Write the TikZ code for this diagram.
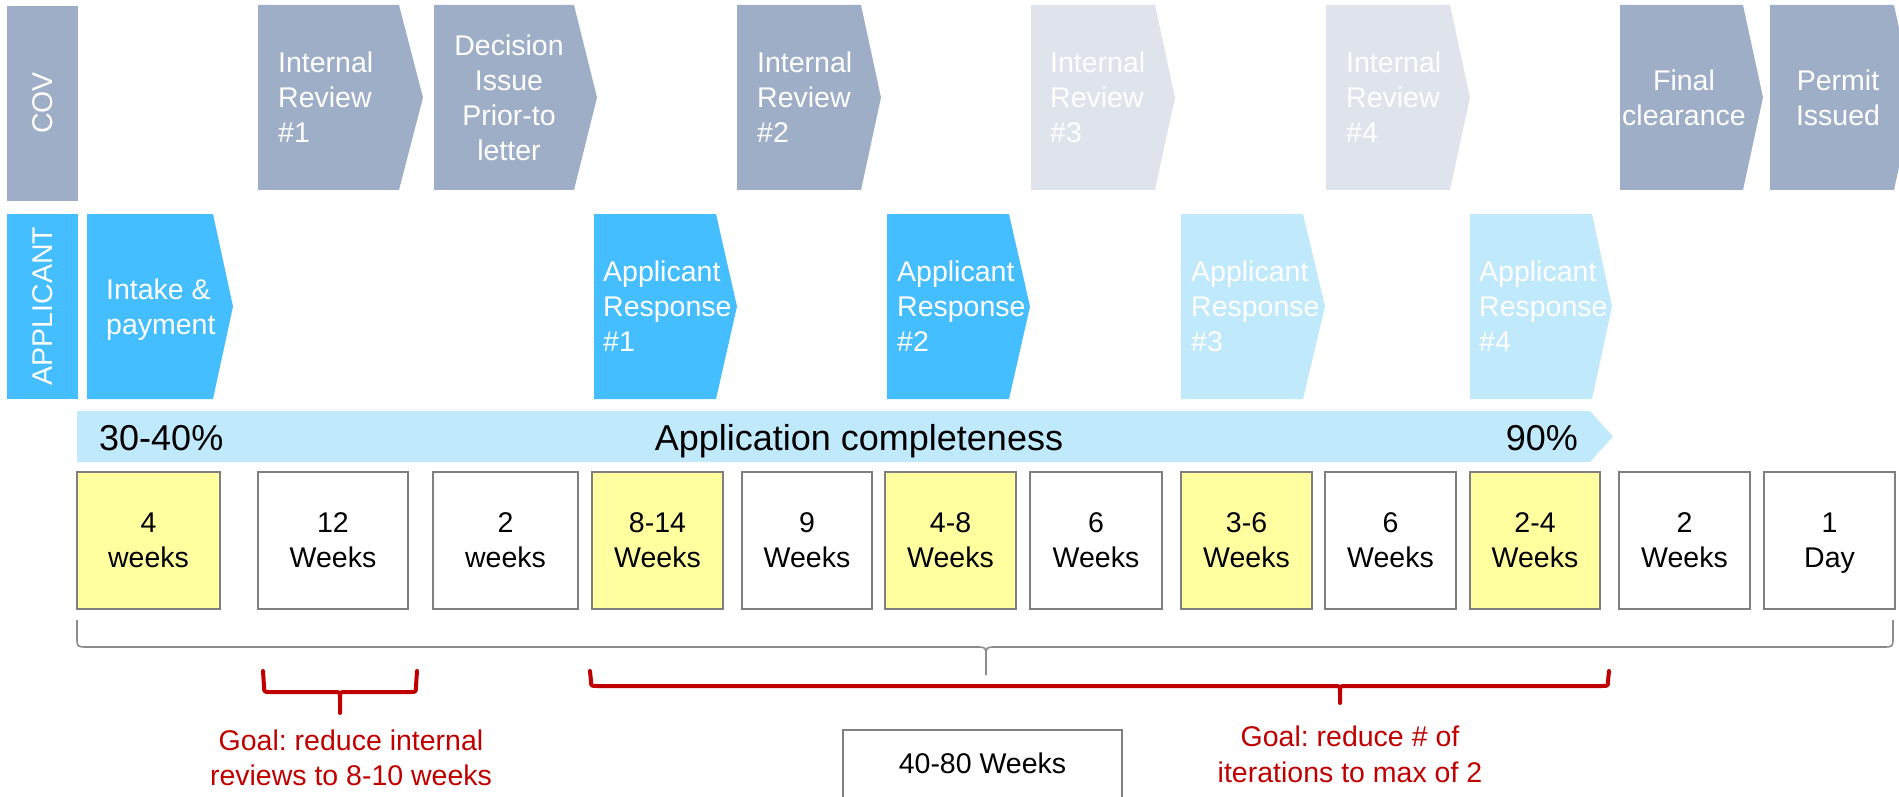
\documentclass[tikz,border=0pt]{standalone}
\usepackage{fontspec}
\setmainfont{Liberation Sans}
\definecolor{covgray}{RGB}{158,174,199}
\definecolor{palegray}{RGB}{222,227,236}
\definecolor{appblue}{RGB}{69,190,255}
\definecolor{paleblue}{RGB}{192,233,252}
\definecolor{stickyyellow}{RGB}{255,255,160}
\definecolor{boxgray}{RGB}{127,127,127}
\definecolor{goalred}{RGB}{192,0,0}
\definecolor{bracegray}{RGB}{140,140,140}
\newcommand{\chevshape}[6]{\fill[#6] (#1,#4) -- (#2,#4) -- (#3,{(#4+#5)/2}) -- (#2,#5) -- (#1,#5) -- cycle;}
\newcommand{\nodepth}[1]{\raisebox{0pt}[\height][0pt]{#1}}
\frenchspacing
\tikzset{
  lbl/.style={font=\fontsize{28.5}{35}\selectfont, text=white, inner sep=0pt, align=left, anchor=west},
  clbl/.style={font=\fontsize{28.5}{35}\selectfont, text=white, inner sep=0pt, align=center},
  durbox/.style={draw=boxgray, line width=2pt, inner sep=0pt, minimum height=137pt, align=center,
     font=\fontsize{28.5}{35}\selectfont},
  bigtxt/.style={font=\fontsize{36}{40}\selectfont, inner sep=0pt},
  goaltxt/.style={font=\fontsize{28.5}{35.5}\selectfont, text=goalred, inner sep=0pt, align=center},
  redbrace/.style={draw=goalred, line width=4pt, line cap=round, line join=round},
  graybrace/.style={draw=bracegray, line width=1.6pt}
}
\begin{document}
\begin{tikzpicture}[x=1pt,y=-1pt]
\useasboundingbox (0,0) rectangle (1899,797);
\clip (0,0) rectangle (1899,797);

% lane labels
\fill[covgray] (7,6) rectangle (78,201);
\node[clbl, rotate=90] (cov) at (42.5,103) {COV};
\fill[appblue] (7,214) rectangle (78,399);
\node[clbl, rotate=90] (applicant) at (42.5,306) {APPLICANT};

% COV row
\chevshape{258}{399}{423}{5}{190}{covgray}
\node[lbl] (ir1) at (278,97.5) {Internal\\Review\\\#1};
\chevshape{434}{574}{597}{5}{190}{covgray}
\node[clbl] (dec) at (509,97.5) {Decision\\Issue\\Prior-to\\letter};
\chevshape{737}{861}{881}{5}{190}{covgray}
\node[lbl] (ir2) at (757,97.5) {Internal\\Review\\\#2};
\chevshape{1031}{1155}{1175}{5}{190}{palegray}
\node[lbl] (ir3) at (1050,97.5) {Internal\\Review\\\#3};
\chevshape{1326}{1450}{1470}{5}{190}{palegray}
\node[lbl] (ir4) at (1346,97.5) {Internal\\Review\\\#4};
\chevshape{1620}{1743}{1763}{5}{190}{covgray}
\node[clbl] (fc) at (1684,97.5) {Final\\clearance};
\chevshape{1770}{1894}{1914}{5}{190}{covgray}
\node[clbl] (pi) at (1838,97.5) {Permit\\Issued};

% Applicant row
\chevshape{87}{213}{233}{214}{399}{appblue}
\node[lbl] (intake) at (106,306.5) {Intake \&\\\nodepth{payment}};
\chevshape{594}{716}{737}{214}{399}{appblue}
\node[lbl] (ar1) at (603,306.5) {Applicant\\Response\\\#1};
\chevshape{887}{1009}{1030}{214}{399}{appblue}
\node[lbl] (ar2) at (897,306.5) {Applicant\\Response\\\#2};
\chevshape{1181}{1303}{1325}{214}{399}{paleblue}
\node[lbl] (ar3) at (1191,306.5) {Applicant\\Response\\\#3};
\chevshape{1470}{1592}{1612}{214}{399}{paleblue}
\node[lbl] (ar4) at (1479,306.5) {Applicant\\Response\\\#4};

% completeness arrow
\fill[paleblue] (77,411) -- (1590,411) -- (1613,436.5) -- (1590,462) -- (77,462) -- cycle;
\node[bigtxt, anchor=base west] (pct30) at (99,450) {30-40\%};
\node[bigtxt, anchor=base] (complete) at (859,450) {Application completeness};
\node[bigtxt, anchor=base east] (pct90) at (1578,450) {90\%};

% durations
\node[durbox, fill=stickyyellow, minimum width=143pt] (d1) at (148.5,540.5) {4\\weeks};
\node[durbox, fill=white, minimum width=150pt] (d2) at (333,540.5) {12\\Weeks};
\node[durbox, fill=white, minimum width=145pt] (d3) at (505.5,540.5) {2\\weeks};
\node[durbox, fill=stickyyellow, minimum width=131pt] (d4) at (657.5,540.5) {8-14\\Weeks};
\node[durbox, fill=white, minimum width=130pt] (d5) at (807,540.5) {9\\Weeks};
\node[durbox, fill=stickyyellow, minimum width=131pt] (d6) at (950.5,540.5) {4-8\\Weeks};
\node[durbox, fill=white, minimum width=132pt] (d7) at (1096,540.5) {6\\Weeks};
\node[durbox, fill=stickyyellow, minimum width=131pt] (d8) at (1246.5,540.5) {3-6\\Weeks};
\node[durbox, fill=white, minimum width=131pt] (d9) at (1390.5,540.5) {6\\Weeks};
\node[durbox, fill=stickyyellow, minimum width=130pt] (d10) at (1535,540.5) {2-4\\Weeks};
\node[durbox, fill=white, minimum width=131pt] (d11) at (1684.5,540.5) {2\\Weeks};
\node[durbox, fill=white, minimum width=131pt] (d12) at (1829.5,540.5) {1\\\nodepth{Day}};

% overall gray brace
\draw[graybrace] (77,620) -- (77,637) .. controls (77,647) .. (87,647) -- (976,647)
   .. controls (986,647) .. (986,657) -- (986,675);
\draw[graybrace] (986,657) .. controls (986,647) .. (996,647) -- (1883,647)
   .. controls (1893,647) .. (1893,637) -- (1893,620);

% red brace 1
\draw[redbrace] (263,671) -- (264,686) .. controls (264,692) .. (270,692) -- (334,692)
   .. controls (340,692) .. (340,698) -- (340,713);
\draw[redbrace] (340,698) .. controls (340,692) .. (346,692) -- (410,692)
   .. controls (416,692) .. (416,686) -- (417,671);
% red brace 2
\draw[redbrace] (590,671) -- (591,681) .. controls (591,686) .. (597,686) -- (1334,686)
   .. controls (1340,686) .. (1340,692) -- (1340,703);
\draw[redbrace] (1340,692) .. controls (1340,686) .. (1346,686) -- (1602,686)
   .. controls (1608,686) .. (1608,681) -- (1609,671);

% goal texts
\node[goaltxt] (goal1) at (351,758) {Goal: reduce internal\\reviews to 8-10 weeks};
\node[goaltxt] (goal2) at (1350,754.5) {Goal: reduce \# of\\iterations to max of 2};

% total box
\node[draw=boxgray, line width=2pt, fill=white, minimum width=279pt, minimum height=100pt,
   inner sep=0pt, anchor=north] (total) at (982.5,729) {};
\node[font=\fontsize{28.5}{35}\selectfont, inner sep=0pt] (totaltxt) at (982.5,763.7) {40-80 Weeks};
\end{tikzpicture}
\end{document}
